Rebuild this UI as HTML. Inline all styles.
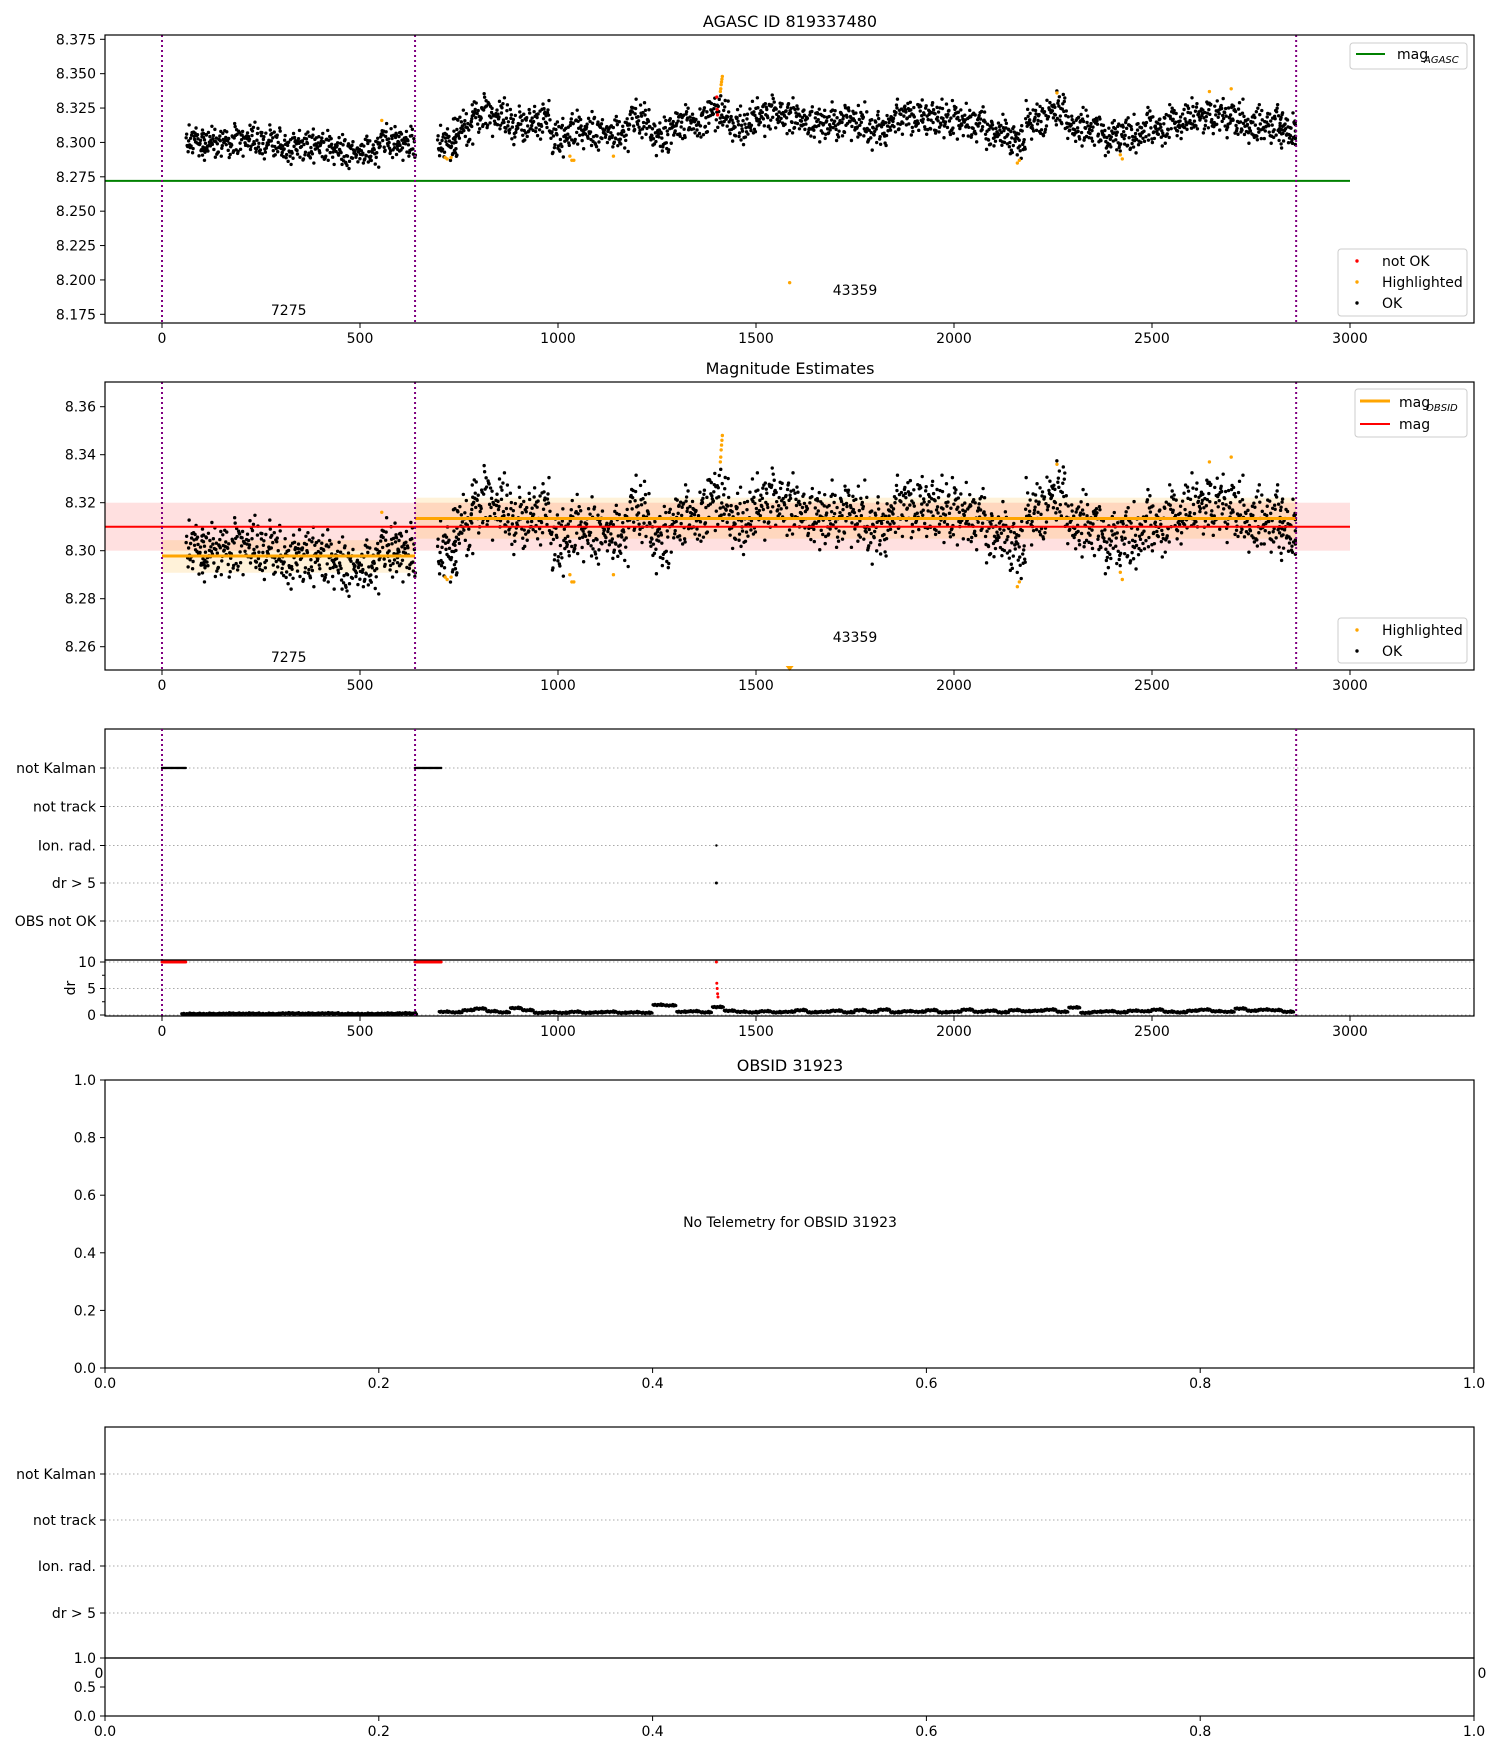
<!DOCTYPE html>
<html><head><meta charset="utf-8"><style>
body{margin:0;background:#fff}
svg text{font-family:"DejaVu Sans","Liberation Sans",sans-serif;fill:#000}
</style></head><body>
<svg id="chart" width="1500" height="1750" xmlns="http://www.w3.org/2000/svg"></svg>
<script>
// ---- data ----
const seg1BinT=[85,125,175,225,275,325,375,425,475,525,575,615];
const seg1BinMag=[8.300,8.299,8.301,8.302,8.300,8.296,8.297,8.296,8.293,8.294,8.301,8.299];
const seg2BinT=[720,760,805,855,905,955,1005,1055,1105,1155,1205,1255,1305,1355,1405,1455,1505,1555,1605,1655,1705,1755,1805,1855,1905,1955,2005,2055,2105,2155,2205,2255,2305,2355,2405,2455,2505,2555,2605,2655,2705,2755,2805,2845];
const seg2BinMag=[8.298,8.309,8.321,8.318,8.312,8.316,8.303,8.309,8.308,8.307,8.317,8.304,8.313,8.315,8.322,8.312,8.318,8.320,8.318,8.314,8.315,8.315,8.308,8.317,8.319,8.317,8.316,8.314,8.306,8.302,8.316,8.323,8.311,8.309,8.304,8.306,8.311,8.313,8.318,8.320,8.317,8.313,8.313,8.307];
const jitter=[0.3,-0.5,0.8,-0.1,-0.9,0.5,0.1,-0.4,1.2,-0.7,0.6,-0.2,0.9,-1.1,0.2,-0.6,0.4,-0.3,1.0,-0.8,0.0,0.7,-1.3,0.35,-0.45,0.55,-0.15,0.85,-0.65,0.15,-1.0,0.65,-0.25,1.4,-0.55,0.45,-0.85,0.25,-0.35,0.75,-1.6,1.1,-0.05,0.05,1.7,-0.95,0.95,-1.2];
const xOrder=[17,3,29,11,36,0,22,8,33,14,26,5,39,19,1,31,9,24,13,37,6,28,16,2,34,21,10,38,4,27,15,32,7,23,12,35,18,30,25,20];
const hiT=[555,715,720,730,1030,1035,1040,1140,1410,1411,1412,1413,1414,1415,2160,2165,2260,2420,2425,2645,2700];
const hiMag=[8.316,8.289,8.288,8.289,8.290,8.287,8.287,8.290,8.337,8.339,8.342,8.344,8.346,8.348,8.285,8.287,8.336,8.291,8.288,8.337,8.339];
const lowHiT=[1585]; const lowHiMag=[8.198];
const notOkT=[1401,1402,1403]; const notOkMag=[8.333,8.324,8.320];
const magAgasc=8.272, magMean=8.310, magBandLo=8.300, magBandHi=8.320;
const obsStart=[0,639], obsEnd=[639,2864], obsMag=[8.2978,8.3134], obsLo=[8.2908,8.305], obsHi=[8.3044,8.3221];
const obsBoundaries=[0,639,2864];
const obsLabels=["7275","43359"], obsLabelT=[320,1750];
const flagNames=["not Kalman","not track","Ion. rad.","dr > 5","OBS not OK"];
const kalmanT0=[0,639], kalmanT1=[62,705];
const drBinT=[75,125,175,225,275,325,375,425,475,525,575,620,715,745,775,805,835,865,895,925,955,985,1015,1045,1075,1105,1135,1165,1195,1225,1255,1285,1315,1345,1375,1405,1435,1465,1495,1525,1555,1585,1615,1645,1675,1705,1735,1765,1795,1825,1855,1885,1915,1945,1975,2005,2035,2065,2095,2125,2155,2185,2215,2245,2275,2305,2335,2365,2395,2425,2455,2485,2515,2545,2575,2605,2635,2665,2695,2725,2755,2785,2815,2845];
const drBinV=[0.2,0.2,0.25,0.25,0.2,0.3,0.25,0.3,0.2,0.2,0.25,0.3,0.6,0.5,0.9,1.2,0.7,0.5,1.3,0.9,0.4,0.5,0.4,0.6,0.4,0.5,0.6,0.4,0.5,0.4,1.9,1.8,0.6,0.7,0.5,1.5,0.8,0.6,0.5,0.7,0.5,0.6,0.9,0.5,0.6,0.8,0.5,0.9,0.6,1.0,0.5,0.7,0.6,0.9,0.5,0.6,1.0,0.6,0.8,0.5,0.9,0.7,0.8,1.0,0.6,1.4,0.4,0.6,0.7,0.5,0.8,0.7,1.0,0.6,0.5,0.8,1.0,0.7,0.6,1.2,0.8,1.0,0.9,0.6];
const drRedT=[1400,1401,1402,1403,1404], drRedV=[10,6,5,4,3.4];
const drRedBarV=10;
const magTicks1=[8.175,8.200,8.225,8.250,8.275,8.300,8.325,8.350,8.375];
const magTicks2=[8.26,8.28,8.30,8.32,8.34,8.36];
const timeTicks=[0,500,1000,1500,2000,2500,3000];
const unitTicks=[0,0.2,0.4,0.6,0.8,1.0];
const drTicks=[0,5,10];

// ---- helpers ----
const NS="http://www.w3.org/2000/svg";
const svg=document.getElementById('chart');
function mk(tag,attrs,parent){const e=document.createElementNS(NS,tag);for(const k in attrs)e.setAttribute(k,attrs[k]);(parent||svg).appendChild(e);return e;}
function txt(s,x,y,anchor,size,name){const t=mk('text',{x:x,y:y,'text-anchor':anchor||'middle','font-size':size||14});t.textContent=s;


return t;}
const L=105,R=1474;
const X=t=>162+t*0.396;
const Y1=m=>39.3+(8.375-m)*1375;
const Y2=m=>406.7+(8.36-m)*2400;
const YD=v=>1015-v*5.3;
const XU=v=>L+v*(R-L);

function frame(top,bot,name){const r=mk('rect',{x:L,y:top,width:R-L,height:bot-top,fill:'none',stroke:'#000','stroke-width':1.2});

}
function xTicks(ticks,fx,bot,fmt,name){ticks.forEach(v=>{mk('line',{x1:fx(v),x2:fx(v),y1:bot,y2:bot+5,stroke:'#000'});txt(fmt(v),fx(v),bot+20,'middle',14,name);});}
function yTicks(ticks,fy,fmt,name){ticks.forEach(v=>{mk('line',{x1:L-5,x2:L,y1:fy(v),y2:fy(v),stroke:'#000'});txt(fmt(v),L-9,fy(v)+5,'end',14,name);});}
function dot(x,y,c,r,name){const d=mk('circle',{cx:x,cy:y,r:r||1.7,fill:c});

}
function vlines(top,bot){obsBoundaries.forEach(t=>{const l=mk('line',{x1:X(t),x2:X(t),y1:top,y2:bot,stroke:'#800080','stroke-width':2,'stroke-dasharray':'2,3'});

});}
function scatter(fy){
  [[seg1BinT,seg1BinMag,0.0075],[seg2BinT,seg2BinMag,0.0085]].forEach(([T,M,sp])=>{
    T.forEach((t,i)=>{xOrder.forEach((xo,k)=>{
      const tt=Math.min(t-24+xo*1.25,2862);
      const j=jitter[(k*7+i*11)%jitter.length];
      dot(X(tt),fy(M[i]+j*sp),'#000',1.7,'ok-point');
    });});
  });
}
function legendBox(x,y,w,h){const r=mk('rect',{x:x,y:y,width:w,height:h,rx:3,fill:'#fff',stroke:'#ccc'});

}

// ---- panel 1 ----
txt('AGASC ID 819337480',790,27,'middle',16,'title-agasc');
scatter(Y1);
hiT.forEach((t,i)=>dot(X(t),Y1(hiMag[i]),'orange',1.7,'highlighted-point'));
lowHiT.forEach((t,i)=>dot(X(t),Y1(lowHiMag[i]),'orange',1.7,'highlighted-point'));
notOkT.forEach((t,i)=>dot(X(t),Y1(notOkMag[i]),'red',1.7,'not-ok-point'));
mk('line',{x1:L,x2:X(3000),y1:Y1(magAgasc),y2:Y1(magAgasc),stroke:'green','stroke-width':2});
vlines(35,323);
obsLabels.forEach((s,i)=>txt(s,X(obsLabelT[i]),i==0?315:295,'middle',14,'obsid-label'));
frame(35,323,'panel-agasc');
yTicks(magTicks1,Y1,v=>v.toFixed(3),'y-tick');
xTicks(timeTicks,X,323,v=>String(v),'x-tick');
legendBox(1350,43,117,26);
mk('line',{x1:1356,x2:1385,y1:54,y2:54,stroke:'green','stroke-width':2});
txt('mag',1397,59,'start',14,'legend-mag-agasc');txt('AGASC',1424,63,'start',10,'legend-sub').setAttribute('font-style','italic');
legendBox(1338,249,129,67);
dot(1357,261,'red',1.7,'legend-notok');txt('not OK',1382,266,'start',14,'legend-notok-label');
dot(1357,282,'orange',1.7,'legend-hi');txt('Highlighted',1382,287,'start',14,'legend-hi-label');
dot(1357,303,'#000',1.7,'legend-ok');txt('OK',1382,308,'start',14,'legend-ok-label');

// ---- panel 2 ----
txt('Magnitude Estimates',790,374,'middle',16,'title-mag-estimates');
mk('rect',{x:L,y:Y2(magBandHi),width:X(3000)-L,height:Y2(magBandLo)-Y2(magBandHi),fill:'rgba(255,0,0,0.12)'});
obsStart.forEach((s,i)=>{mk('rect',{x:X(s),y:Y2(obsHi[i]),width:X(obsEnd[i])-X(s),height:Y2(obsLo[i])-Y2(obsHi[i]),fill:'rgba(255,165,0,0.15)'});});
scatter(Y2);
hiT.forEach((t,i)=>dot(X(t),Y2(hiMag[i]),'orange',1.7,'highlighted-point'));
lowHiT.forEach(t=>{mk('polygon',{points:`${X(t)-4},666 ${X(t)+4},666 ${X(t)},671`,fill:'orange'});});
obsStart.forEach((s,i)=>{mk('line',{x1:X(s),x2:X(obsEnd[i]),y1:Y2(obsMag[i]),y2:Y2(obsMag[i]),stroke:'orange','stroke-width':3});});
mk('line',{x1:L,x2:X(3000),y1:Y2(magMean),y2:Y2(magMean),stroke:'red','stroke-width':2});
vlines(382,670);
obsLabels.forEach((s,i)=>txt(s,X(obsLabelT[i]),i==0?662:642,'middle',14,'obsid-label'));
frame(382,670,'panel-mag-estimates');
yTicks(magTicks2,Y2,v=>v.toFixed(2),'y-tick');
xTicks(timeTicks,X,670,v=>String(v),'x-tick');
legendBox(1355,389,112,48);
mk('line',{x1:1360,x2:1390,y1:401,y2:401,stroke:'orange','stroke-width':3});
txt('mag',1399,407,'start',14,'legend-mag-obsid');txt('OBSID',1426,411,'start',10,'legend-sub').setAttribute('font-style','italic');
mk('line',{x1:1360,x2:1390,y1:424,y2:424,stroke:'red','stroke-width':2});
txt('mag',1399,429,'start',14,'legend-mag');
legendBox(1338,618,129,45);
dot(1357,630,'orange',1.7,'legend-hi');txt('Highlighted',1382,635,'start',14,'legend-hi-label');
dot(1357,651,'#000',1.7,'legend-ok');txt('OK',1382,656,'start',14,'legend-ok-label');

// ---- panel 3 (flags + dr) ----
const flagY=[768,806.5,845.5,883,921];
flagNames.forEach((n,i)=>{mk('line',{x1:L,x2:R,y1:flagY[i],y2:flagY[i],stroke:'#aaa','stroke-dasharray':'1.5,2.5'});mk('line',{x1:L-5,x2:L,y1:flagY[i],y2:flagY[i],stroke:'#000'});txt(n,L-9,flagY[i]+5,'end',14,'flag-label');});
kalmanT0.forEach((t,i)=>{for(let tt=t;tt<=kalmanT1[i];tt+=3)dot(X(tt),flagY[0],'#000',1.2,'not-kalman-mark');});
dot(X(1400),flagY[2],'#000',1.2,'ion-rad-mark');
dot(X(1400),flagY[3],'#000',1.5,'dr5-mark');
frame(729,960,'panel-flags');
drTicks.forEach(v=>mk('line',{x1:L,x2:R,y1:YD(v),y2:YD(v),stroke:'#aaa','stroke-dasharray':'1.5,2.5'}));
drBinT.forEach((t,i)=>{const w=(i<12)?50:30;const n=(i<12)?20:12;for(let k=0;k<n;k++)dot(X(t-w/2+k*w/n),YD(drBinV[i]+jitter[k]*0.15),'#000',1.6,'dr-point');});
kalmanT0.forEach((t,i)=>{for(let tt=t;tt<=kalmanT1[i];tt+=3)dot(X(tt),YD(drRedBarV),'red',1.5,'dr-red-point');});
drRedT.forEach((t,i)=>dot(X(t),YD(drRedV[i]),'red',1.5,'dr-red-point'));
vlines(729,1016);
frame(960,1016,'panel-dr');
yTicks(drTicks,YD,v=>String(v),'dr-tick');
mk('line',{x1:L-3,x2:L,y1:YD(7.5),y2:YD(7.5),stroke:'#000'});mk('line',{x1:L-3,x2:L,y1:YD(2.5),y2:YD(2.5),stroke:'#000'});
{const t=txt('dr',70,993,'middle',14,'dr-axis-title');t.setAttribute('transform','rotate(-90 70 988)');}
xTicks(timeTicks,X,1016,v=>String(v),'x-tick');

// ---- panel 4 ----
txt('OBSID 31923',790,1071,'middle',16,'title-obsid');
frame(1080,1368,'panel-obsid');
const Y4=v=>1368-v*288;
yTicks(unitTicks,Y4,v=>v.toFixed(1),'y-tick');
xTicks(unitTicks,XU,1368,v=>v.toFixed(1),'x-tick');
txt('No Telemetry for OBSID 31923',790,1227,'middle',14,'no-telemetry-text');

// ---- panel 5 ----
const flagY5=[1474,1520,1566,1613];
flagY5.forEach((y,i)=>{mk('line',{x1:L,x2:R,y1:y,y2:y,stroke:'#aaa','stroke-dasharray':'1.5,2.5'});mk('line',{x1:L-5,x2:L,y1:y,y2:y,stroke:'#000'});txt(flagNames[i],L-9,y+5,'end',14,'flag-label');});
frame(1427,1658,'panel-flags-2');
txt('0',L-6,1678,'middle',14,'x-tick');txt('0',R+8,1678,'middle',14,'x-tick');
frame(1658,1716,'panel-dr-2');
const Y5=v=>1716-v*58;
yTicks([0,0.5,1.0],Y5,v=>v.toFixed(1),'y-tick');
xTicks(unitTicks,XU,1716,v=>v.toFixed(1),'x-tick');
</script>
</body></html>
